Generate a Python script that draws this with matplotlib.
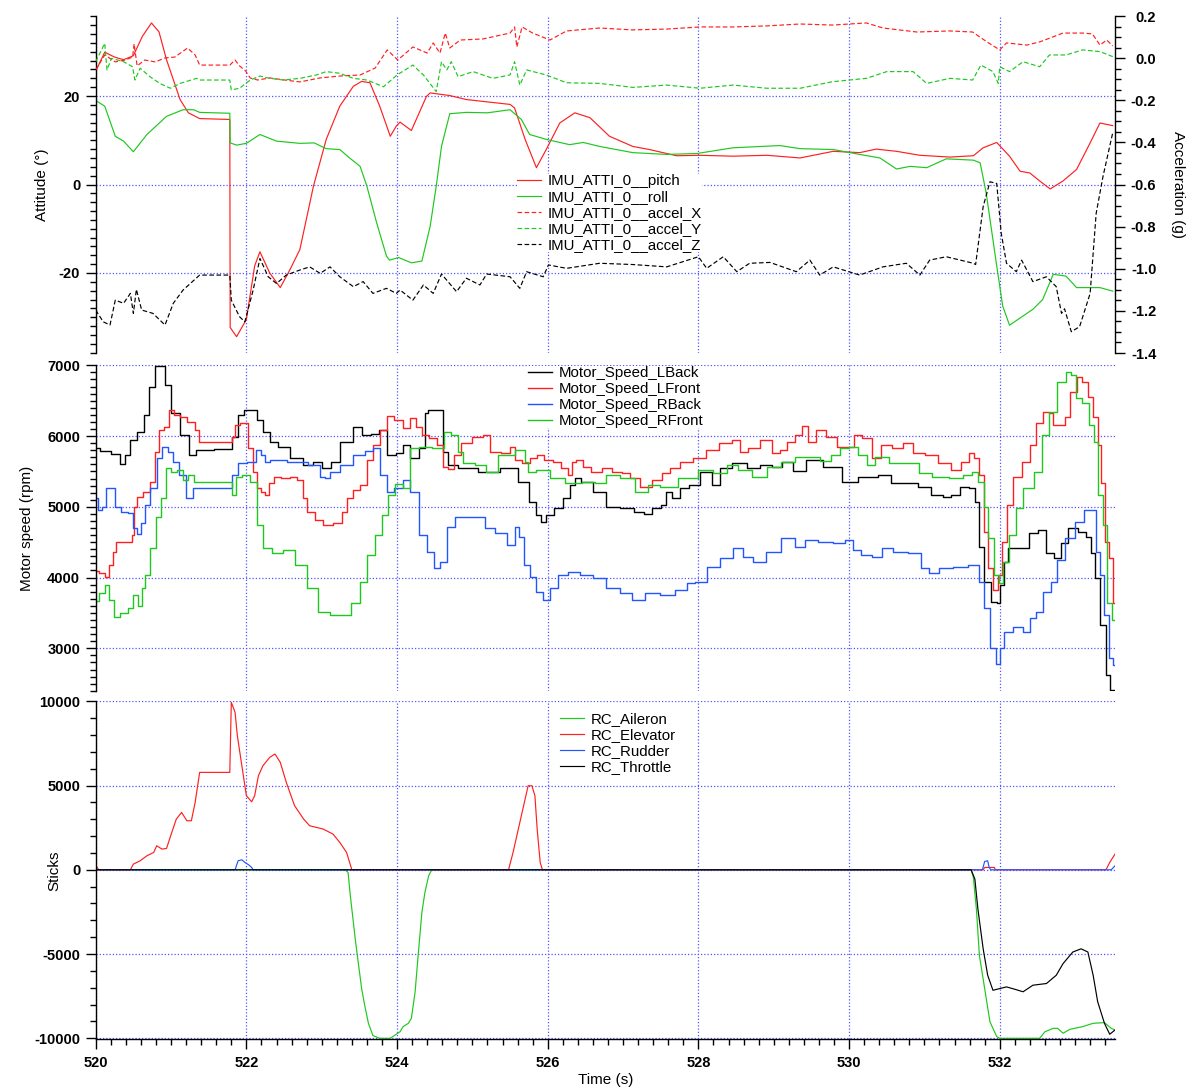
import matplotlib
matplotlib.use("Agg")
import matplotlib.pyplot as plt
from matplotlib.ticker import MultipleLocator, FormatStrFormatter

# ---------------------------------------------------------------- top panel
pitch_t = [520.00, 520.12, 520.25, 520.37, 520.50, 520.62, 520.74, 520.84, 520.94, 521.12,
           521.23, 521.38, 521.78, 521.785, 521.87, 522.00, 522.11, 522.18, 522.31, 522.45,
           522.58, 522.71, 522.89, 523.06, 523.24, 523.42, 523.53, 523.64, 523.77, 523.91,
           523.99, 524.04, 524.19, 524.39, 524.44, 524.70, 524.92, 525.50, 525.56, 525.70,
           525.85, 525.98, 526.16, 526.36, 526.56, 526.82, 527.13, 527.35, 527.71, 528.02,
           528.46, 528.91, 529.35, 529.79, 530.14, 530.36, 530.63, 530.94, 531.34, 531.65,
           531.78, 531.96, 532.13, 532.27, 532.40, 532.53, 532.67, 532.84, 533.02, 533.20,
           533.33, 533.50]
pitch_deg = [25.6, 29.9, 28.8, 28.2, 29.1, 33.5, 36.5, 34.5, 28.2, 19.2,
             16.2, 14.9, 14.7, -32.3, -34.4, -30.5, -18.4, -15.2, -20.0, -23.3,
             -19.2, -14.7, -0.4, 10.2, 17.7, 22.2, 23.3, 23.0, 17.7, 10.9,
             13.2, 14.1, 12.2, 19.9, 20.7, 20.1, 19.2, 18.1, 17.3, 10.2,
             3.8, 7.9, 13.9, 16.2, 15.1, 10.9, 8.6, 7.9, 6.5, 6.6,
             6.4, 6.6, 6.0, 7.5, 7.2, 8.0, 7.5, 6.6, 6.2, 6.5,
             8.3, 9.5, 6.4, 3.0, 2.6, 0.8, -1.0, 0.8, 3.4, 9.4,
             13.9, 13.3]

roll_t = [520.00, 520.12, 520.26, 520.37, 520.50, 520.68, 520.94, 521.16, 521.30, 521.38,
          521.78, 521.785, 521.87, 522.00, 522.18, 522.40, 522.71, 522.90, 523.06, 523.24,
          523.37, 523.51, 523.60, 523.73, 523.86, 523.90, 524.02, 524.19, 524.33, 524.44,
          524.52, 524.59, 524.70, 524.92, 525.20, 525.50, 525.65, 525.76, 525.98, 526.29,
          526.47, 526.69, 527.13, 527.58, 527.98, 528.46, 529.08, 529.35, 529.79, 530.14,
          530.41, 530.63, 530.81, 531.03, 531.29, 531.65, 531.74, 531.82, 531.96, 532.04,
          532.13, 532.44, 532.57, 532.71, 532.88, 533.02, 533.33, 533.50]
roll_deg = [19.0, 17.7, 10.9, 9.8, 7.4, 11.3, 15.4, 16.9, 16.9, 16.3,
            16.1, 9.4, 8.9, 9.3, 11.3, 9.8, 9.3, 9.4, 8.1, 7.9,
            6.0, 4.1, -0.4, -8.7, -16.2, -17.1, -16.5, -17.7, -17.3, -9.4,
            -0.4, 8.6, 16.0, 16.3, 16.2, 16.9, 14.7, 11.3, 10.2, 9.0,
            9.5, 8.6, 7.2, 6.8, 7.0, 8.3, 8.8, 8.1, 7.9, 6.8,
            6.0, 3.5, 4.1, 3.8, 5.8, 5.5, 4.9, -1.9, -18.4, -27.5,
            -31.8, -28.2, -26.0, -20.3, -20.7, -23.3, -23.3, -24.1]

accx_t = [520.00, 520.12, 520.26, 520.39, 520.49, 520.51, 520.55, 520.65, 520.79, 520.92,
          521.05, 521.22, 521.32, 521.38, 521.78, 521.85, 521.91, 521.99, 522.05, 522.15,
          522.31, 522.51, 522.71, 522.98, 523.24, 523.51, 523.71, 523.87, 524.01, 524.21,
          524.40, 524.48, 524.57, 524.64, 524.70, 524.84, 525.14, 525.50, 525.56, 525.59,
          525.66, 525.80, 526.03, 526.25, 526.69, 527.13, 527.58, 528.02, 528.46, 528.91,
          529.35, 529.78, 530.23, 530.45, 530.90, 531.34, 531.64, 531.83, 532.00, 532.09,
          532.36, 532.53, 532.70, 532.84, 533.10, 533.23, 533.33, 533.42, 533.50]
accx_g = [-0.056, 0.015, -0.018, -0.009, 0.005, 0.067, -0.037, -0.009, -0.018, 0.001,
          0.005, 0.048, 0.015, -0.033, -0.033, -0.009, -0.037, -0.061, -0.094, -0.104,
          -0.094, -0.104, -0.113, -0.094, -0.085, -0.080, -0.047, 0.039, -0.009, 0.053,
          0.024, 0.072, 0.024, 0.119, 0.048, 0.086, 0.091, 0.119, 0.148, 0.053,
          0.148, 0.119, 0.086, 0.129, 0.143, 0.134, 0.138, 0.148, 0.148, 0.153,
          0.162, 0.157, 0.167, 0.143, 0.124, 0.129, 0.124, 0.077, 0.039, 0.072,
          0.062, 0.077, 0.100, 0.119, 0.119, 0.115, 0.062, 0.086, 0.058]

accy_t = [520.00, 520.12, 520.15, 520.21, 520.37, 520.49, 520.52, 520.59, 520.72, 520.85,
          520.99, 521.12, 521.34, 521.38, 521.78, 521.80, 521.91, 522.05, 522.18, 522.31,
          522.49, 522.71, 522.93, 523.06, 523.24, 523.42, 523.60, 523.82, 524.00, 524.21,
          524.35, 524.52, 524.59, 524.66, 524.72, 524.81, 525.01, 525.27, 525.50, 525.56,
          525.63, 525.72, 525.98, 526.25, 526.69, 527.13, 527.58, 528.02, 528.46, 528.91,
          529.35, 529.78, 530.23, 530.50, 530.85, 531.03, 531.34, 531.64, 531.75, 531.91,
          531.98, 532.00, 532.13, 532.31, 532.53, 532.66, 532.88, 533.10, 533.33, 533.50]
accy_g = [-0.017, 0.070, -0.056, -0.001, -0.017, -0.041, -0.104, -0.048, -0.088, -0.120,
          -0.143, -0.120, -0.096, -0.104, -0.104, -0.151, -0.143, -0.104, -0.085, -0.096,
          -0.104, -0.096, -0.080, -0.064, -0.072, -0.096, -0.104, -0.136, -0.080, -0.033,
          -0.080, -0.159, -0.017, -0.056, -0.017, -0.088, -0.064, -0.096, -0.080, -0.017,
          -0.128, -0.056, -0.080, -0.117, -0.120, -0.139, -0.128, -0.143, -0.128, -0.143,
          -0.143, -0.112, -0.096, -0.064, -0.064, -0.120, -0.096, -0.104, -0.033, -0.064,
          -0.120, -0.041, -0.064, -0.017, -0.041, 0.015, 0.015, 0.039, 0.031, 0.007]

accz_t = [520.00, 520.10, 520.19, 520.26, 520.37, 520.46, 520.50, 520.54, 520.61, 520.76,
          520.92, 521.03, 521.16, 521.38, 521.78, 521.80, 521.91, 521.98, 522.09, 522.18,
          522.29, 522.40, 522.53, 522.71, 522.84, 522.98, 523.11, 523.24, 523.42, 523.55,
          523.68, 523.86, 523.99, 524.04, 524.21, 524.35, 524.48, 524.59, 524.79, 524.92,
          525.10, 525.19, 525.50, 525.63, 525.72, 525.94, 526.01, 526.25, 526.69, 527.13,
          527.58, 528.00, 528.11, 528.33, 528.51, 528.68, 528.95, 529.30, 529.48, 529.61,
          529.79, 530.14, 530.45, 530.76, 530.94, 531.07, 531.29, 531.65, 531.68, 531.78,
          531.87, 531.96, 532.02, 532.09, 532.22, 532.29, 532.44, 532.62, 532.75, 532.82,
          532.86, 532.95, 533.06, 533.20, 533.28, 533.37, 533.50]
accz_g = [-1.196, -1.252, -1.267, -1.149, -1.164, -1.117, -1.212, -1.098, -1.196, -1.212,
          -1.267, -1.164, -1.101, -1.030, -1.030, -1.149, -1.228, -1.252, -1.101, -0.951,
          -1.038, -1.070, -1.030, -1.006, -0.991, -1.022, -0.991, -1.038, -1.085, -1.061,
          -1.117, -1.093, -1.117, -1.101, -1.149, -1.077, -1.117, -1.025, -1.109, -1.045,
          -1.077, -1.025, -1.038, -1.093, -1.014, -1.038, -0.982, -0.998, -0.974, -0.980,
          -0.991, -0.943, -0.998, -0.943, -1.014, -0.974, -0.970, -1.014, -0.959, -1.030,
          -0.991, -1.030, -0.991, -0.974, -1.030, -0.959, -0.943, -0.974, -0.980, -0.705,
          -0.587, -0.595, -0.832, -0.974, -1.014, -0.959, -1.061, -1.038, -1.085, -1.212,
          -1.190, -1.299, -1.275, -1.117, -0.737, -0.563, -0.354]

# ---------------------------------------------------------------- motor speeds
lback_t = [520.00, 520.12, 520.28, 520.37, 520.41, 520.50, 520.59, 520.68, 520.74, 520.83,
           520.88, 520.96, 521.05, 521.19, 521.30, 521.36, 521.78, 521.83, 521.94, 522.00,
           522.11, 522.16, 522.27, 522.36, 522.49, 522.67, 522.84, 522.93, 523.09, 523.15,
           523.33, 523.51, 523.57, 523.73, 523.79, 523.95, 524.02, 524.13, 524.22, 524.35,
           524.39, 524.44, 524.59, 524.64, 524.70, 524.92, 525.23, 525.50, 525.70, 525.81,
           525.88, 525.94, 526.01, 526.16, 526.25, 526.34, 526.38, 526.51, 526.69, 526.87,
           527.05, 527.23, 527.32, 527.45, 527.56, 527.58, 527.71, 527.80, 527.94, 528.11,
           528.24, 528.33, 528.55, 528.73, 528.91, 529.04, 529.17, 529.35, 529.52, 529.79,
           530.01, 530.23, 530.54, 530.58, 530.85, 530.98, 531.20, 531.29, 531.42, 531.53,
           531.65, 531.70, 531.75, 531.83, 531.94, 531.98, 532.03, 532.07, 532.16, 532.34,
           532.43, 532.59, 532.64, 532.79, 532.84, 532.97, 533.10, 533.19, 533.24, 533.28,
           533.37, 533.44, 533.48, 533.53]
lback_rpm = [5827, 5794, 5747, 5601, 5733, 5945, 6063, 6298, 6698, 6990,
             6990, 6722, 6322, 6015, 5733, 5803, 5813, 5992, 6298, 6369,
             6369, 6227, 6063, 5921, 5850, 5686, 5591, 5639, 5544, 5639,
             5921, 6133, 6015, 6025, 6086, 5733, 5756, 5874, 5686, 5827,
             6322, 6369, 6369, 5780, 5591, 5544, 5497, 5544, 5356, 5073,
             4885, 4791, 4885, 4979, 5120, 5309, 5403, 5356, 5215, 5003,
             4979, 4932, 4894, 4979, 5026, 5215, 5120, 5262, 5309, 5497,
             5309, 5544, 5615, 5544, 5591, 5568, 5639, 5500, 5662, 5568,
             5356, 5427, 5450, 5332, 5332, 5285, 5167, 5144, 5167, 5285,
             5262, 5073, 4437, 3943, 3660, 3636, 3895, 4225, 4414, 4414,
             4626, 4673, 4343, 4272, 4484, 4696, 4649, 4579, 4343, 3990,
             3330, 2623, 2410, 2410]

lfront_t = [520.00, 520.10, 520.15, 520.19, 520.26, 520.28, 520.46, 520.50, 520.52, 520.57,
            520.68, 520.77, 520.81, 520.88, 520.94, 521.01, 521.07, 521.16, 521.27, 521.36,
            521.37, 521.78, 521.83, 521.87, 521.96, 522.07, 522.11, 522.18, 522.22, 522.27,
            522.34, 522.40, 522.53, 522.62, 522.73, 522.78, 522.84, 522.98, 523.06, 523.24,
            523.31, 523.37, 523.46, 523.55, 523.64, 523.73, 523.82, 523.91, 524.02, 524.13,
            524.22, 524.28, 524.37, 524.48, 524.57, 524.64, 524.70, 524.81, 524.90, 525.10,
            525.17, 525.30, 525.45, 525.54, 525.59, 525.72, 525.81, 525.90, 526.00, 526.13,
            526.22, 526.31, 526.34, 526.42, 526.51, 526.65, 526.79, 526.91, 527.05, 527.14,
            527.32, 527.45, 527.58, 527.67, 527.84, 528.02, 528.19, 528.37, 528.51, 528.60,
            528.73, 528.91, 529.04, 529.13, 529.21, 529.35, 529.41, 529.50, 529.61, 529.79,
            529.88, 530.01, 530.12, 530.23, 530.37, 530.47, 530.67, 530.76, 530.94, 531.07,
            531.29, 531.42, 531.56, 531.62, 531.71, 531.75, 531.82, 531.87, 531.96, 532.00,
            532.07, 532.13, 532.22, 532.36, 532.44, 532.53, 532.62, 532.69, 532.73, 532.85,
            532.89, 532.98, 533.06, 533.13, 533.20, 533.28, 533.33, 533.37, 533.42, 533.48,
            533.53]
lfront_rpm = [4093, 4060, 4013, 4178, 4367, 4498, 4508, 4602, 5003, 5144,
              5215, 5356, 5780, 6086, 6133, 6369, 6298, 6274, 6204, 6086,
              5912, 5912, 5992, 6157, 6180, 5827, 5497, 5262, 5215, 5167,
              5332, 5427, 5403, 5427, 5379, 5120, 4932, 4814, 4744, 4767,
              4932, 5120, 5238, 5309, 5662, 5874, 6086, 6284, 6227, 6110,
              6251, 6133, 6015, 5968, 5874, 5568, 5535, 5733, 5898, 5992,
              6015, 5780, 5756, 5850, 5662, 5615, 5686, 5733, 5662, 5639,
              5544, 5450, 5639, 5662, 5568, 5497, 5544, 5497, 5474, 5403,
              5285, 5379, 5474, 5544, 5639, 5686, 5803, 5898, 5945, 5780,
              5827, 5945, 5756, 5803, 5921, 6015, 6147, 5921, 6086, 5992,
              5850, 5850, 6015, 5968, 5686, 5874, 5827, 5898, 5756, 5733,
              5615, 5521, 5639, 5756, 5686, 5450, 4649, 4131, 3825, 4037,
              4508, 5026, 5427, 5639, 5874, 6180, 6345, 6322, 6157, 6157,
              6274, 6628, 6840, 6769, 6557, 6274, 5874, 5332, 4508, 4272,
              3636]

rback_t = [520.00, 520.06, 520.12, 520.15, 520.23, 520.28, 520.39, 520.48, 520.52, 520.57,
           520.63, 520.68, 520.77, 520.85, 520.92, 520.99, 521.05, 521.16, 521.25, 521.34,
           521.78, 521.85, 521.92, 522.09, 522.16, 522.22, 522.27, 522.36, 522.71, 522.93,
           523.02, 523.06, 523.15, 523.33, 523.51, 523.64, 523.73, 523.82, 523.91, 524.02,
           524.13, 524.22, 524.35, 524.44, 524.53, 524.62, 524.70, 524.84, 525.10, 525.23,
           525.37, 525.54, 525.59, 525.65, 525.72, 525.81, 525.88, 525.99, 526.07, 526.21,
           526.34, 526.51, 526.69, 526.87, 527.05, 527.18, 527.40, 527.58, 527.80, 527.89,
           528.02, 528.20, 528.37, 528.55, 528.64, 528.81, 528.99, 529.21, 529.35, 529.48,
           529.70, 529.88, 530.01, 530.10, 530.23, 530.37, 530.50, 530.67, 530.89, 531.02,
           531.11, 531.29, 531.47, 531.69, 531.75, 531.82, 531.91, 531.98, 532.02, 532.09,
           532.27, 532.36, 532.44, 532.53, 532.62, 532.73, 532.80, 532.93, 533.07, 533.16,
           533.24, 533.31, 533.35, 533.42, 533.48, 533.53]
rback_rpm = [5120, 4955, 5003, 5262, 5262, 5003, 4932, 4908, 4696, 4616,
             4767, 5026, 5262, 5686, 5851, 5780, 5639, 5450, 5120, 5262,
             5262, 5450, 5615, 5639, 5803, 5733, 5639, 5662, 5639, 5591,
             5427, 5403, 5497, 5591, 5733, 5789, 5827, 5450, 5215, 5262,
             5380, 5215, 4602, 4367, 4131, 4225, 4720, 4861, 4861, 4696,
             4626, 4461, 4720, 4578, 4178, 4013, 3801, 3683, 3848, 4037,
             4084, 4037, 3990, 3848, 3778, 3683, 3778, 3754, 3825, 3919,
             3943, 4155, 4272, 4414, 4296, 4225, 4367, 4555, 4430, 4532,
             4508, 4484, 4532, 4390, 4319, 4296, 4414, 4367, 4343, 4131,
             4060, 4131, 4155, 4178, 3943, 3566, 3000, 2774, 3000, 3236,
             3307, 3236, 3424, 3519, 3801, 3943, 4249, 4555, 4791, 4955,
             4955, 4367, 4037, 3471, 2859, 2765]

rfront_t = [520.00, 520.10, 520.15, 520.21, 520.28, 520.37, 520.48, 520.52, 520.59, 520.63,
            520.68, 520.77, 520.83, 520.90, 520.96, 521.03, 521.12, 521.19, 521.25, 521.36,
            521.78, 521.83, 521.89, 522.00, 522.09, 522.18, 522.27, 522.40, 522.58, 522.71,
            522.89, 523.02, 523.20, 523.33, 523.46, 523.55, 523.64, 523.77, 523.84, 523.93,
            524.02, 524.13, 524.22, 524.35, 524.59, 524.66, 524.77, 524.84, 524.92, 525.14,
            525.23, 525.45, 525.68, 525.72, 525.76, 525.94, 526.12, 526.34, 526.56, 526.69,
            526.87, 527.05, 527.27, 527.40, 527.58, 527.89, 528.11, 528.29, 528.46, 528.60,
            528.82, 528.99, 529.21, 529.35, 529.52, 529.70, 529.83, 529.94, 530.05, 530.19,
            530.28, 530.41, 530.64, 530.86, 530.99, 531.22, 531.42, 531.60, 531.66, 531.75,
            531.82, 531.88, 531.97, 532.01, 532.08, 532.17, 532.25, 532.38, 532.52, 532.61,
            532.69, 532.83, 532.92, 532.98, 533.05, 533.14, 533.23, 533.28, 533.34, 533.39,
            533.45, 533.53]
rfront_rpm = [3669, 3778, 3896, 3683, 3448, 3495, 3566, 3754, 3603, 3848,
              4037, 4414, 4861, 5120, 5544, 5497, 5521, 5379, 5450, 5356,
              5356, 5167, 5427, 5450, 5356, 4743, 4414, 4343, 4390, 4178,
              3848, 3519, 3471, 3471, 3636, 3943, 4320, 4602, 4885, 5167,
              5320, 5262, 5827, 5850, 5827, 6063, 6015, 5780, 5615, 5591,
              5497, 5733, 5803, 5639, 5497, 5521, 5403, 5332, 5356, 5332,
              5450, 5403, 5215, 5309, 5285, 5403, 5521, 5474, 5591, 5521,
              5427, 5568, 5639, 5710, 5709, 5648, 5733, 5827, 5850, 5733,
              5591, 5709, 5615, 5615, 5474, 5427, 5403, 5450, 5497, 5356,
              5003, 4555, 4037, 3919, 4225, 4602, 4979, 5262, 5497, 6015,
              6345, 6769, 6910, 6863, 6534, 6463, 6157, 5921, 5167, 4743,
              3636, 3401]

# ---------------------------------------------------------------- RC sticks
aileron_t = [520.00, 523.31, 523.35, 523.38, 523.42, 523.45, 523.49, 523.53, 523.57, 523.62,
             523.68, 523.77, 523.91, 524.04, 524.08, 524.15, 524.19, 524.24, 524.28, 524.33,
             524.37, 524.42, 524.46, 531.62, 531.65, 531.69, 531.73, 531.80, 531.87, 531.96,
             532.00, 532.53, 532.60, 532.71, 532.77, 532.84, 532.93, 533.10, 533.24, 533.39,
             533.48, 533.53]
aileron_v = [0, 0, -160, -1540, -3110, -4290, -5670, -7050, -8030, -9110,
             -9840, -10000, -10000, -9610, -9310, -9110, -8820, -7240, -5080, -2520,
             -1340, -350, 0, 0, -450, -2320, -5080, -7050, -9020, -9900,
             -10000, -10000, -9610, -9410, -9410, -9700, -9470, -9310, -9110, -9070,
             -9410, -9510]

elevator_t = [520.00, 520.04, 520.46, 520.50, 520.59, 520.68, 520.77, 520.81, 520.88, 520.94,
              521.01, 521.07, 521.14, 521.21, 521.27, 521.32, 521.36, 521.38, 521.78, 521.80,
              521.85, 521.88, 521.92, 521.96, 522.00, 522.07, 522.11, 522.16, 522.22, 522.31,
              522.38, 522.45, 522.53, 522.64, 522.76, 522.84, 523.02, 523.15, 523.24, 523.33,
              523.40, 525.48, 525.54, 525.61, 525.68, 525.74, 525.79, 525.83, 525.86, 525.90,
              525.93, 531.78, 531.80, 531.93, 531.94, 533.41, 533.46, 533.53]
elevator_v = [277, 0, 0, 337, 535, 832, 1030, 1426, 1228, 1267,
              2218, 3010, 3406, 2911, 2911, 4000, 5188, 5782, 5782, 9940,
              9346, 7960, 6772, 5584, 4396, 4039, 4396, 5584, 6178, 6673,
              6871, 6376, 5188, 3802, 3010, 2614, 2416, 2119, 1624, 1030,
              0, 0, 1030, 2416, 3802, 4990, 4990, 4396, 2416, 436,
              0, 0, 139, 139, 0, 0, 436, 930]

rudder_t = [520.00, 521.85, 521.89, 521.94, 521.98, 522.03, 522.07, 522.09, 531.77, 531.80,
            531.84, 531.86, 531.88, 533.48, 533.53]
rudder_v = [0, 0, 535, 594, 436, 297, 139, 0, 0, 495,
            535, 139, 0, 0, 238]

throttle_t = [520.00, 531.62, 531.67, 531.71, 531.78, 531.84, 531.91, 532.00, 532.09, 532.20,
              532.31, 532.44, 532.62, 532.75, 532.84, 532.97, 533.08, 533.17, 533.24, 533.30,
              533.39, 533.46, 533.53]
throttle_v = [0, 0, -550, -2320, -4690, -6260, -7150, -7050, -6950, -7090,
              -7240, -6850, -6750, -6260, -5570, -4880, -4690, -4880, -6260, -7830,
              -9110, -9760, -9510]

RED = "#ff1f1f"
GREEN = "#1ec81e"
BLUE = "#2156ff"
BLACK = "#000000"
GRID = "#5555ff"
W, H = 1194, 1091
X0, X1 = 95.7, 1115.0


def frame(ax, left=True, bottom=False):
    for side in ("top", "right", "left", "bottom"):
        ax.spines[side].set_visible(False)
    ax.spines["left"].set_visible(left)
    ax.spines["bottom"].set_visible(bottom)
    for side in ("left", "bottom"):
        ax.spines[side].set_linewidth(1.0)
    ax.set_xlim(520, 533.53)
    ax.xaxis.set_major_locator(MultipleLocator(2))
    ax.xaxis.set_minor_locator(MultipleLocator(0.2))
    ax.grid(True, which="major", color=GRID, linestyle=(0, (1, 1.6)), linewidth=0.9)
    ax.set_axisbelow(True)
    ax.tick_params(axis="y", which="major", direction="out", length=7.2, width=1.0,
                   pad=4.0, labelsize=10.5)
    ax.tick_params(axis="y", which="minor", direction="out", length=4.3, width=1.0)
    if bottom:
        ax.tick_params(axis="x", which="major", direction="out", length=7.2, width=1.0,
                       pad=5.0, labelsize=10.5)
        ax.tick_params(axis="x", which="minor", direction="out", length=4.3, width=1.0)
    else:
        ax.tick_params(axis="x", which="both", length=0, labelbottom=False)


def axes_rect(top_px, bottom_px):
    return [X0 / W, 1 - bottom_px / H, (X1 - X0) / W, (bottom_px - top_px) / H]


def add_legend(ax, handles, x_px, y_px):
    leg = ax.legend(handles=handles, loc="upper left",
                    bbox_to_anchor=(x_px / W, 1 - y_px / H), bbox_transform=fig.transFigure,
                    frameon=True, fancybox=False, framealpha=1.0, borderpad=0.0,
                    borderaxespad=0.0, handlelength=1.6, handletextpad=0.45,
                    labelspacing=0.13, prop={"size": 10.8, "weight": "normal"})
    leg.get_frame().set_facecolor("white")
    leg.get_frame().set_edgecolor("none")
    return leg


plt.rcParams["font.family"] = ["Liberation Sans", "DejaVu Sans"]
plt.rcParams["font.weight"] = "bold"
plt.rcParams["axes.unicode_minus"] = False

fig = plt.figure(figsize=(W / 100, H / 100), dpi=100)
LW = 0.85
DASH = (0, (3.9, 2.1))
LABEL_FONT = {"size": 11, "weight": "normal"}

# ---- attitude + acceleration
ax_att = fig.add_axes(axes_rect(16, 353))
frame(ax_att)
ax_att.set_ylim(-38.08, 38.08)
ax_att.yaxis.set_major_locator(MultipleLocator(20))
ax_att.yaxis.set_minor_locator(MultipleLocator(2))
h_pitch, = ax_att.plot(pitch_t, pitch_deg, color=RED, lw=LW, label="IMU_ATTI_0__pitch")
h_roll, = ax_att.plot(roll_t, roll_deg, color=GREEN, lw=LW, label="IMU_ATTI_0__roll")
ax_att.set_ylabel("Attitude (\u00b0)", fontdict=LABEL_FONT)
ax_att.yaxis.set_label_coords((48.5 - X0) / (X1 - X0), 0.5)

ax_acc = ax_att.twinx()
for side in ("top", "left", "bottom"):
    ax_acc.spines[side].set_visible(False)
ax_acc.spines["right"].set_linewidth(1.0)
ax_acc.set_ylim(-1.4, 0.2)
ax_acc.yaxis.set_major_locator(MultipleLocator(0.2))
ax_acc.yaxis.set_minor_locator(MultipleLocator(0.05))
ax_acc.yaxis.set_major_formatter(FormatStrFormatter("%.1f"))
ax_acc.tick_params(axis="y", which="major", direction="out", length=7.2, width=1.0,
                   pad=22.5, labelsize=10.5)
ax_acc.tick_params(axis="y", which="minor", direction="out", length=4.3, width=1.0)
h_ax, = ax_acc.plot(accx_t, accx_g, color=RED, lw=LW, ls=DASH, label="IMU_ATTI_0__accel_X")
h_ay, = ax_acc.plot(accy_t, accy_g, color=GREEN, lw=LW, ls=DASH, label="IMU_ATTI_0__accel_Y")
h_az, = ax_acc.plot(accz_t, accz_g, color=BLACK, lw=LW, ls=DASH, label="IMU_ATTI_0__accel_Z")
plt.setp(ax_acc.get_yticklabels(), ha="right")
ax_acc.set_ylabel("Acceleration (g)", fontdict=LABEL_FONT, rotation=-90, va="bottom")
ax_acc.yaxis.set_label_coords((1171 - X0) / (X1 - X0), 0.5)
add_legend(ax_acc, [h_pitch, h_roll, h_ax, h_ay, h_az], 517, 174)

# ---- motor speeds (logged as stepped samples)
ax_mot = fig.add_axes(axes_rect(365.3, 691))
frame(ax_mot)
ax_mot.set_ylim(2397, 7000)
ax_mot.yaxis.set_major_locator(MultipleLocator(1000))
ax_mot.yaxis.set_minor_locator(MultipleLocator(100))
motor_handles = []
for t, v, c, name in [(lback_t, lback_rpm, BLACK, "Motor_Speed_LBack"),
                      (lfront_t, lfront_rpm, RED, "Motor_Speed_LFront"),
                      (rback_t, rback_rpm, BLUE, "Motor_Speed_RBack"),
                      (rfront_t, rfront_rpm, GREEN, "Motor_Speed_RFront")]:
    h, = ax_mot.plot(t, v, color=c, lw=1.0, drawstyle="steps-mid", label=name)
    motor_handles.append(h)
ax_mot.set_ylabel("Motor speed (rpm)", fontdict=LABEL_FONT)
ax_mot.yaxis.set_label_coords((33.5 - X0) / (X1 - X0), 0.5)
add_legend(ax_mot, motor_handles, 528, 366)

# ---- RC sticks
ax_rc = fig.add_axes(axes_rect(701.3, 1039.3))
frame(ax_rc, bottom=True)
ax_rc.set_ylim(-10060, 10000)
ax_rc.yaxis.set_major_locator(MultipleLocator(5000))
ax_rc.yaxis.set_minor_locator(MultipleLocator(1000))
rc_handles = []
for t, v, c, name in [(aileron_t, aileron_v, GREEN, "RC_Aileron"),
                      (elevator_t, elevator_v, RED, "RC_Elevator"),
                      (rudder_t, rudder_v, BLUE, "RC_Rudder"),
                      (throttle_t, throttle_v, BLACK, "RC_Throttle")]:
    h, = ax_rc.plot(t, v, color=c, lw=LW, label=name)
    rc_handles.append(h)
ax_rc.set_ylabel("Sticks", fontdict=LABEL_FONT)
ax_rc.yaxis.set_label_coords((61.5 - X0) / (X1 - X0), 0.5)
ax_rc.set_xlabel("Time (s)", fontdict=LABEL_FONT)
ax_rc.xaxis.set_label_coords(0.5, (1039.3 - 1073) / (1039.3 - 701.3))
add_legend(ax_rc, rc_handles, 560, 712)

fig.savefig("out.png", dpi=100)
